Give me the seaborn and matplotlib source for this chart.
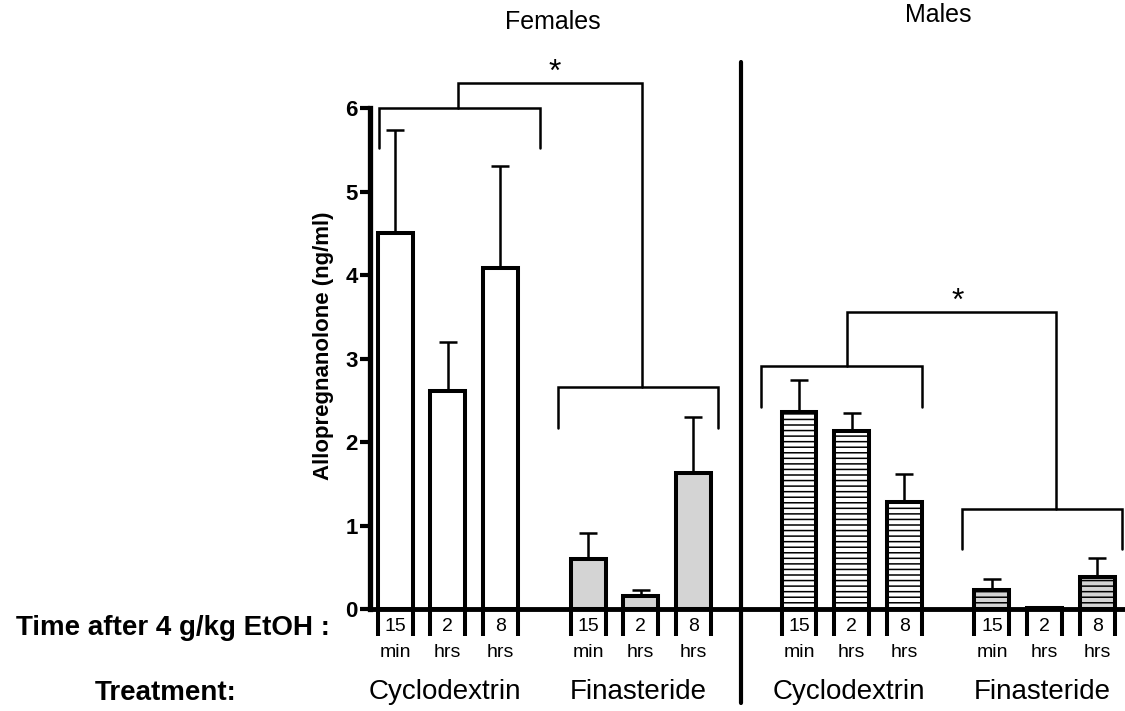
import numpy as np
import pandas as pd
import matplotlib
matplotlib.use("Agg")
import matplotlib.pyplot as plt
import seaborn as sns

# Allopregnanolone (ng/ml), mean and SEM, by sex / treatment / time after 4 g/kg EtOH
times = ["15\nmin", "2\nhrs", "8\nhrs"]
treatments = ["Cyclodextrin", "Finasteride"]
sexes = ["Females", "Males"]

female_cyclodextrin = [4.50, 2.61, 4.09]
female_cyclodextrin_sem = [1.24, 0.59, 1.22]
female_finasteride = [0.60, 0.16, 1.63]
female_finasteride_sem = [0.32, 0.07, 0.67]
male_cyclodextrin = [2.36, 2.13, 1.28]
male_cyclodextrin_sem = [0.39, 0.22, 0.34]
male_finasteride = [0.23, 0.02, 0.39]
male_finasteride_sem = [0.14, 0.00, 0.22]

sns.set_style("white")
plt.rcParams["font.family"] = ["Liberation Sans", "DejaVu Sans"]
plt.rcParams.update({
    "hatch.linewidth": 1.1,
    "text.color": "black",
    "axes.edgecolor": "black",
    "axes.labelcolor": "black",
    "ytick.color": "black",
    "xtick.color": "black",
})

fig = plt.figure(figsize=(11.25, 7.11), dpi=100)
ax = fig.add_axes([0.3289, 0.1428, 0.6711, 0.7053])

group_start = [0.0, 3.67, 7.68, 11.35]
offsets = np.arange(3)
series = [
    (female_cyclodextrin, female_cyclodextrin_sem, "white", None),
    (female_finasteride, female_finasteride_sem, "#d4d4d4", None),
    (male_cyclodextrin, male_cyclodextrin_sem, "white", "---"),
    (male_finasteride, male_finasteride_sem, "#d4d4d4", "---"),
]

bar_w = 0.665
edge_lw = 2.9
all_x = []
for start, (means, sems, fill, hatch) in zip(group_start, series):
    xs = start + offsets
    all_x.extend(xs)
    df = pd.DataFrame({"pos": xs, "value": means})
    kw = dict(hatch=hatch) if hatch else {}
    sns.barplot(data=df, x="pos", y="value", native_scale=True, width=bar_w,
                errorbar=None, color=fill, saturation=1, edgecolor="black",
                linewidth=edge_lw, ax=ax, zorder=3, **kw)
    ax.errorbar(xs, means, yerr=[np.zeros(3), sems], fmt="none", ecolor="black",
                elinewidth=1.8, capsize=6.5, capthick=1.8, zorder=2)

all_x = np.array(all_x)

ax.set_xlim(-0.479, 13.88)
ax.set_ylim(0, 6)
ax.set_xlabel("")
ax.set_ylabel("")
ax.set_xticks([])
ax.set_yticks(range(0, 7))
ax.tick_params(axis="y", direction="out", length=7, width=3, labelsize=16, pad=2,
               left=True, colors="black")
for lbl in ax.get_yticklabels():
    lbl.set_fontweight("bold")
for side in ["top", "right"]:
    ax.spines[side].set_visible(False)
ax.spines["left"].set_linewidth(3.8)
ax.spines["bottom"].set_linewidth(3.5)
ax.spines["left"].set_bounds(0, 6)

# bar-edge marks under the baseline framing each time label
edges = np.concatenate([all_x - bar_w / 2, all_x + bar_w / 2])
ax.vlines(edges, -0.32, 0, colors="black", lw=2.9, clip_on=False)

for x, t in zip(all_x, times * 4):
    num, unit = t.split("\n")
    ax.text(x, -0.206, num, ha="center", va="center", fontsize=14, clip_on=False)
    ax.text(x, -0.51, unit, ha="center", va="center", fontsize=14, clip_on=False)

for start, name in zip(group_start, treatments * 2):
    ax.text(start + 0.95, -0.983, name, ha="center", va="center", fontsize=20, clip_on=False)

# divider between females and males
ax.plot([6.574, 6.574], [-1.12, 6.55], color="black", lw=3, clip_on=False)

# significance brackets
bk = dict(color="black", lw=1.8, clip_on=False, solid_joinstyle="miter")
ax.plot([-0.30, -0.30, 2.753, 2.753], [5.52, 6.004, 6.004, 5.52], **bk)
ax.plot([1.20, 1.20, 4.686, 4.686], [6.004, 6.296, 6.296, 2.666], **bk)
ax.plot([3.089, 3.089, 6.143, 6.143], [2.175, 2.666, 2.666, 2.175], **bk)
ax.text(3.03, 6.42, "*", ha="center", va="center", fontsize=23, clip_on=False)

ax.plot([6.955, 6.955, 10.01, 10.01], [2.426, 2.913, 2.913, 2.426], **bk)
ax.plot([8.595, 8.595, 12.563, 12.563], [2.913, 3.563, 3.563, 1.202], **bk)
ax.plot([10.78, 10.78, 13.82, 13.82], [0.72, 1.202, 1.202, 0.72], **bk)
ax.text(10.705, 3.68, "*", ha="center", va="center", fontsize=23, clip_on=False)

# titles and side captions
W, H = 1125, 711
fig.text(553 / W, 1 - 22 / H, sexes[0], ha="center", va="center", fontsize=18)
fig.text(938 / W, 1 - 15 / H, sexes[1], ha="center", va="center", fontsize=18)
fig.text(323 / W, 1 - 346 / H, "Allopregnanolone (ng/ml)", rotation=90,
         ha="center", va="center", fontsize=16, fontweight="bold")
fig.text(173 / W, 1 - 628 / H, "Time after 4 g/kg EtOH :", ha="center", va="center",
         fontsize=20, fontweight="bold")
fig.text(166 / W, 1 - 693 / H, "Treatment:", ha="center", va="center",
         fontsize=20, fontweight="bold")

fig.savefig("out.png", dpi=100, facecolor="white")
